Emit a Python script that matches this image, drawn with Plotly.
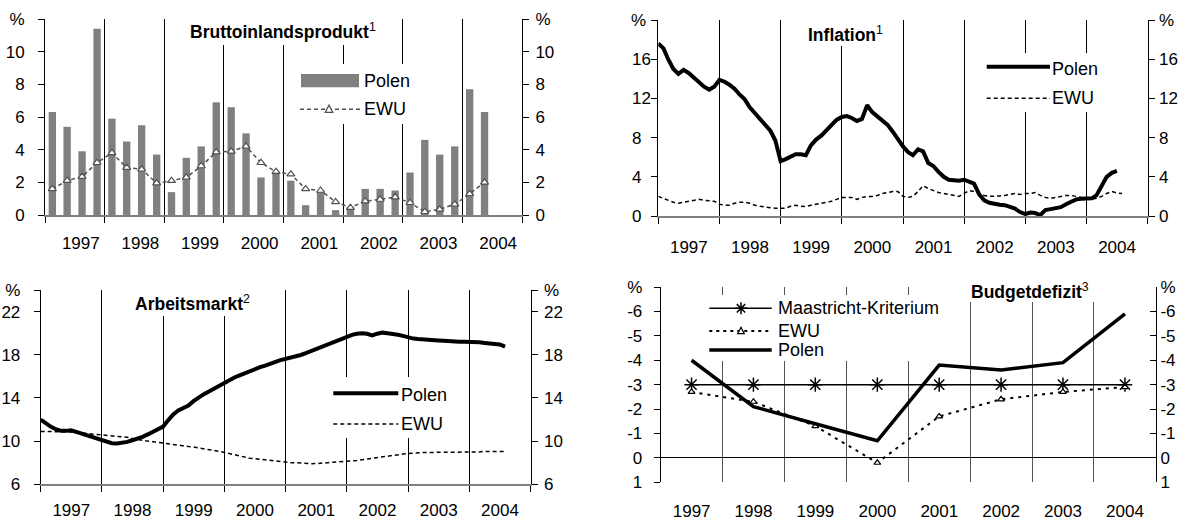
import plotly.graph_objects as go
import pandas as pd

W, H = 1190, 522

# ---------------- data ----------------
# Bruttoinlandsprodukt (quarterly, % y/y)
gdp_quarters = pd.period_range("1997Q1", "2004Q2", freq="Q")
gdp_polen = [6.3, 5.4, 3.9, 11.4, 5.9, 4.5, 5.5, 3.7, 1.4, 3.5, 4.2, 6.9, 6.6, 5.0, 2.3, 2.6,
             2.1, 0.6, 1.5, 0.3, 0.5, 1.6, 1.6, 1.5, 2.6, 4.6, 3.7, 4.2, 7.7, 6.3]
gdp_ewu = [1.6, 2.1, 2.35, 3.2, 3.8, 2.9, 2.8, 1.95, 2.1, 2.3, 3.0, 3.85, 3.9, 4.2, 3.2, 2.65,
           2.5, 1.6, 1.5, 0.8, 0.45, 0.85, 0.95, 1.1, 0.75, 0.2, 0.35, 0.65, 1.3, 2.0]

# Inflation (monthly, %)
infl_polen = [17.6, 17.1, 16.0, 15.0, 14.5, 14.9, 14.6, 14.1, 13.6, 13.2,
              12.9, 13.2, 13.9, 13.7, 13.4, 13.0, 12.4, 11.9, 11.1, 10.5,
              9.85, 9.2, 8.7, 7.7, 5.6, 5.8, 6.0, 6.3, 6.3, 6.2,
              7.2, 7.8, 8.2, 8.7, 9.2, 9.8, 10.1, 10.2, 10.0, 9.7,
              9.9, 11.3, 10.6, 10.2, 9.8, 9.3, 8.6, 7.8, 7.1, 6.5,
              6.2, 6.8, 6.6, 5.4, 5.1, 4.5, 4.0, 3.7, 3.6, 3.6,
              3.7, 3.5, 3.3, 2.2, 1.6, 1.35, 1.2, 1.15, 1.1, 0.9,
              0.75, 0.4, 0.2, 0.35, 0.3, 0.1, 0.6, 0.7, 0.75, 0.9,
              1.2, 1.5, 1.7, 1.75, 1.8, 1.8, 2.1, 3.0, 4.0, 4.4, 4.6]
infl_ewu = [2.0, 1.8, 1.6, 1.4, 1.3, 1.4, 1.5, 1.6, 1.7, 1.6,
            1.55, 1.5, 1.2, 1.1, 1.1, 1.3, 1.4, 1.4, 1.3, 1.1,
            1.0, 0.9, 0.85, 0.8, 0.8, 0.8, 1.0, 1.1, 1.0, 0.95,
            1.1, 1.2, 1.3, 1.4, 1.5, 1.7, 1.9, 1.9, 1.9, 1.7,
            1.9, 2.0, 2.0, 2.1, 2.3, 2.4, 2.5, 2.5, 2.0, 1.9,
            2.0, 2.5, 3.1, 2.8, 2.6, 2.4, 2.3, 2.2, 2.1, 2.0,
            2.3, 2.6, 2.5, 2.3, 2.1, 2.0, 2.0, 2.05, 2.1, 2.2,
            2.3, 2.2, 2.3, 2.3, 2.4, 2.1, 1.9, 1.8, 1.9, 2.0,
            2.1, 2.1, 2.0, 1.9, 1.8, 1.7, 1.8, 2.0, 2.3, 2.5, 2.35, 2.3]

# Arbeitsmarkt (monthly unemployment rate, %)
unemp_polen = [12.0, 11.65, 11.35, 11.1, 10.95, 10.95, 11.0, 10.85, 10.7, 10.55,
               10.43, 10.28, 10.12, 9.95, 9.81, 9.78, 9.82, 9.93, 10.08, 10.22,
               10.4, 10.62, 10.85, 11.1, 11.35, 11.95, 12.45, 12.85, 13.05, 13.3,
               13.7, 14.05, 14.35, 14.6, 14.88, 15.1, 15.35, 15.65, 15.9, 16.1,
               16.3, 16.5, 16.68, 16.85, 17.0, 17.2, 17.35, 17.5, 17.6, 17.7,
               17.85, 17.98, 18.15, 18.35, 18.55, 18.75, 18.95, 19.15, 19.3, 19.45,
               19.7, 19.85, 19.95, 20.0, 19.95, 19.8, 19.95, 20.05, 20.0, 19.95,
               19.85, 19.75, 19.6, 19.5, 19.45, 19.4, 19.35, 19.33, 19.33, 19.3,
               19.25, 19.2, 19.2, 19.2, 19.2, 19.18, 19.15, 19.1, 19.05, 19.0,
               18.95, 18.75]
unemp_ewu = [10.9, 10.9, 10.9, 10.9, 10.9, 10.9, 10.85, 10.8, 10.75, 10.72,
             10.68, 10.65, 10.62, 10.55, 10.5, 10.45, 10.4, 10.35, 10.25, 10.15,
             10.1, 10.0, 9.95, 9.88, 9.8, 9.75, 9.68, 9.62, 9.55, 9.5,
             9.45, 9.38, 9.3, 9.25, 9.15, 9.05, 8.95, 8.85, 8.72, 8.6,
             8.5, 8.42, 8.38, 8.32, 8.28, 8.22, 8.15, 8.08, 8.02, 8.0,
             8.0, 7.95, 7.9, 7.9, 7.92, 7.95, 7.98, 8.0, 8.02, 8.05,
             8.1, 8.15, 8.2, 8.28, 8.35, 8.4, 8.45, 8.55, 8.62, 8.7,
             8.75, 8.8, 8.85, 8.9, 8.92, 8.95, 8.95, 8.95, 8.95, 8.95,
             8.95, 8.95, 8.95, 8.95, 8.95, 8.98, 9.0, 9.05, 9.05, 9.05,
             9.05, 9.05]

# Budgetdefizit (annual, % of GDP)
budget_years = [1997, 1998, 1999, 2000, 2001, 2002, 2003, 2004]
budget_maastricht = [-3.0, -3.0, -3.0, -3.0, -3.0, -3.0, -3.0, -3.0]
budget_ewu = [-2.7, -2.3, -1.3, 0.2, -1.7, -2.4, -2.7, -2.9]
budget_polen = [-4.0, -2.1, -1.4, -0.7, -3.8, -3.6, -3.9, -5.9]

# tick labels
ticks_gdp = [0, 2, 4, 6, 8, 10, 12]
ticks_gdp_text = ["0", "2", "4", "6", "8", "10", "%"]
ticks_infl = [0, 4, 8, 12, 16, 20]
ticks_infl_text = ["0\u00a0\u00a0", "4\u00a0\u00a0", "8\u00a0\u00a0", "12", "16", "%\u00a0"]
ticks_infl_text_r = ["0", "4", "8", "12", "16", "%"]
ticks_unemp = [6, 10, 14, 18, 22, 24]
ticks_unemp_text = ["6", "10", "14", "18", "22", "%"]
ticks_budget = [1, 0, -1, -2, -3, -4, -5, -6, -7]
ticks_budget_text = ["1", "0", "-1", "-2", "-3", "-4", "-5", "-6", "%"]

# ---------------- helpers ----------------
FAM = "Liberation Sans, Arial, Helvetica, sans-serif"
FONT = dict(family=FAM, size=17, color="black")

q_mid = [p.start_time + (p.end_time - p.start_time) / 2 for p in gdp_quarters]
m_infl = pd.date_range("1997-01-01", periods=len(infl_polen), freq="MS")
m_infl_e = pd.date_range("1997-01-01", periods=len(infl_ewu), freq="MS")
m_unemp = pd.date_range("1997-01-01", periods=len(unemp_polen), freq="MS")
m_unemp_e = pd.date_range("1997-01-01", periods=len(unemp_ewu), freq="MS")
b_dates = [pd.Timestamp(f"{y}-07-02") for y in budget_years]


def PX(px):
    return px / W


def PY(py):
    return 1 - py / H


def xdate(domain, anchor, standoff, showline=True, ticks="outside", gridcolor="black", shift=0):
    return dict(type="date", domain=domain, anchor=anchor, automargin=False,
                range=["1997-01-01", "2005-01-01"], tick0="1997-01-01", dtick="M12",
                ticklabelmode="period", tickformat="%Y", ticklabelshift=shift,
                showgrid=True, gridcolor=gridcolor, gridwidth=1,
                ticks=ticks, ticklen=6, tickcolor="black", tickwidth=1,
                showline=showline, linecolor="#808080", linewidth=2,
                tickfont=FONT, ticklabelstandoff=standoff, zeroline=False, fixedrange=True)


def yax(domain, anchor, rng, tv, tt, side="left", overlay=None, standoff=0, zeroline=False,
        ticks="outside"):
    d = dict(domain=domain, anchor=anchor, range=rng, tickvals=tv, ticktext=tt, automargin=False,
             side=side, ticks=ticks, ticklen=6, tickcolor="black", tickwidth=1,
             showline=True, linecolor="black", linewidth=1, showgrid=False,
             zeroline=zeroline, zerolinecolor="black", zerolinewidth=1,
             tickfont=FONT, ticklabelstandoff=standoff, fixedrange=True)
    if overlay:
        d["overlaying"] = overlay
    return d


fig = go.Figure()

# ---- Panel 1: GDP ----
fig.add_trace(go.Bar(x=q_mid, y=gdp_polen, width=45 * 24 * 3600 * 1000,
                     marker=dict(color="#808080", line=dict(width=0)),
                     xaxis="x", yaxis="y", showlegend=False))
fig.add_trace(go.Scatter(x=q_mid, y=gdp_ewu, mode="lines+markers",
                         line=dict(color="#505050", width=1.5, dash="4px,3px"),
                         marker=dict(symbol="triangle-up", size=7, color="white",
                                     line=dict(color="#505050", width=1.2)),
                         xaxis="x", yaxis="y", showlegend=False))
# ---- Panel 2: Inflation ----
fig.add_trace(go.Scatter(x=m_infl_e, y=infl_ewu, mode="lines",
                         line=dict(color="black", width=1.5, dash="4px,3px"),
                         xaxis="x2", yaxis="y2", showlegend=False))
fig.add_trace(go.Scatter(x=m_infl, y=infl_polen, mode="lines",
                         line=dict(color="black", width=4),
                         xaxis="x2", yaxis="y2", showlegend=False))
# ---- Panel 3: Arbeitsmarkt ----
fig.add_trace(go.Scatter(x=m_unemp_e, y=unemp_ewu, mode="lines",
                         line=dict(color="black", width=1.5, dash="4px,3px"),
                         xaxis="x3", yaxis="y3", showlegend=False))
fig.add_trace(go.Scatter(x=m_unemp, y=unemp_polen, mode="lines",
                         line=dict(color="black", width=4),
                         xaxis="x3", yaxis="y3", showlegend=False))
# ---- Panel 4: Budget ----
fig.add_trace(go.Scatter(x=b_dates, y=budget_maastricht, mode="lines+markers",
                         line=dict(color="black", width=1.5),
                         marker=dict(symbol="asterisk-open", size=12,
                                     line=dict(color="black", width=1.5)),
                         xaxis="x4", yaxis="y4", showlegend=False))
fig.add_trace(go.Scatter(x=b_dates, y=budget_ewu, mode="lines+markers",
                         line=dict(color="black", width=2, dash="3px,5px"),
                         marker=dict(symbol="triangle-up", size=6, color="white",
                                     line=dict(color="black", width=1.2)),
                         xaxis="x4", yaxis="y4", showlegend=False))
fig.add_trace(go.Scatter(x=b_dates, y=budget_polen, mode="lines",
                         line=dict(color="black", width=3.5),
                         xaxis="x4", yaxis="y4", showlegend=False))
# empty traces so the right-hand axes are drawn
for xa, ya in [("x", "y5"), ("x2", "y6"), ("x3", "y7"), ("x4", "y8")]:
    fig.add_trace(go.Scatter(x=[], y=[], xaxis=xa, yaxis=ya, showlegend=False, hoverinfo="skip"))

# domains (from pixel positions)
d1x = [PX(45), PX(522)]; d1y = [PY(215), PY(19)]
d2x = [PX(658.3), PX(1147.7)]; d2y = [PY(216), PY(20)]
d3x = [PX(40.7), PX(530.7)]; d3y = [PY(484.3), PY(290)]
d4x = [PX(660.7), PX(1156)]; d4y = [PY(482.3), PY(287)]

layout = dict(
    template="none",
    width=W, height=H, autosize=False,
    margin=dict(l=0, r=0, t=0, b=0, pad=0, autoexpand=False),
    paper_bgcolor="white", plot_bgcolor="white",
    font=FONT, showlegend=False, barmode="overlay",
    xaxis=xdate(d1x, "y", 6, shift=6),
    xaxis2=xdate(d2x, "y2", 9),
    xaxis3=xdate(d3x, "y3", 3),
    xaxis4=xdate(d4x, "y4", 17, showline=False, ticks="", gridcolor="#555555"),
    yaxis=yax(d1y, "x", [0, 12], ticks_gdp, ticks_gdp_text, standoff=10),
    yaxis5=yax(d1y, "x", [0, 12], ticks_gdp, ticks_gdp_text, side="right", overlay="y", standoff=3),
    yaxis2=yax(d2y, "x2", [0, 20], ticks_infl, ticks_infl_text, standoff=-3),
    yaxis6=yax(d2y, "x2", [0, 20], ticks_infl, ticks_infl_text_r, side="right", overlay="y2", standoff=1),
    yaxis3=yax(d3y, "x3", [6, 24], ticks_unemp, ticks_unemp_text, standoff=10),
    yaxis7=yax(d3y, "x3", [6, 24], ticks_unemp, ticks_unemp_text, side="right", overlay="y3", standoff=3),
    yaxis4=yax(d4y, "x4", [1, -7], ticks_budget, ticks_budget_text, standoff=8, zeroline=True),
    yaxis8=yax(d4y, "x4", [1, -7], ticks_budget, ticks_budget_text, side="right", overlay="y4",
               standoff=0, ticks="inside"),
)
fig.update_layout(**layout)

# ---------------- titles & legends (white boxes over the grid) ----------------
shapes = []
annos = []


def box(x0, y0, x1, y1):
    shapes.append(dict(type="rect", xref="paper", yref="paper", x0=PX(x0), x1=PX(x1),
                       y0=PY(y1), y1=PY(y0), fillcolor="white", line=dict(width=0), layer="above"))


def hline(x0, x1, y, width, dash="solid", color="black"):
    shapes.append(dict(type="line", xref="paper", yref="paper", x0=PX(x0), x1=PX(x1),
                       y0=PY(y), y1=PY(y), line=dict(color=color, width=width, dash=dash),
                       layer="above"))


def tri(cx, cy, s, color):
    path = (f"M {PX(cx)} {PY(cy - s * 0.6)} L {PX(cx - s * 0.55)} {PY(cy + s * 0.45)} "
            f"L {PX(cx + s * 0.55)} {PY(cy + s * 0.45)} Z")
    shapes.append(dict(type="path", xref="paper", yref="paper", path=path, fillcolor="white",
                       line=dict(color=color, width=1.2), layer="above"))


def star(cx, cy, r):
    p = []
    for dx, dy in [(r, 0), (0, r), (r * 0.7, r * 0.7), (r * 0.7, -r * 0.7)]:
        p.append(f"M {PX(cx - dx)} {PY(cy - dy)} L {PX(cx + dx)} {PY(cy + dy)}")
    shapes.append(dict(type="path", xref="paper", yref="paper", path=" ".join(p),
                       line=dict(color="black", width=1.5), layer="above"))


def text(x, y, s, size=18):
    annos.append(dict(xref="paper", yref="paper", x=PX(x), y=PY(y), text=s, showarrow=False,
                      xanchor="left", yanchor="middle", font=dict(family=FAM, size=size, color="black")))


# titles
box(186, 19, 394, 45)
text(188, 31, "<b>Bruttoinlandsprodukt</b><sup>1</sup>", 17.5)
box(803, 20, 894, 46)
text(806, 34, "<b>Inflation</b><sup>1</sup>", 17.5)
box(130, 290, 268, 316)
text(133, 303, "<b>Arbeitsmarkt</b><sup>2</sup>", 17.5)
box(965, 287, 1106, 302)
text(969, 291, "<b>Budgetdefizit</b><sup>3</sup>", 17.5)

# legend panel 1
box(297, 64, 428, 124)
shapes.append(dict(type="rect", xref="paper", yref="paper", x0=PX(301), x1=PX(359),
                   y0=PY(87.3), y1=PY(74), fillcolor="#808080", line=dict(width=0), layer="above"))
text(362, 81, "Polen")
hline(300, 360, 109.3, 1.5, "4px,3px", "#505050")
tri(329, 109.3, 7, "#505050")
text(362, 109, "EWU")

# legend panel 2
box(980, 53, 1104, 112)
hline(986.7, 1050, 66.7, 4)
text(1050, 69, "Polen")
hline(986.7, 1050, 98.3, 1.5, "4px,3px")
text(1050, 98, "EWU")

# legend panel 3
box(330, 377, 464, 438)
hline(333.3, 398.3, 393.3, 4)
text(399.5, 395, "Polen")
hline(333.3, 398.3, 424, 1.5, "4px,3px")
text(399.5, 424, "EWU")

# legend panel 4
box(702, 295, 957, 361)
hline(709.3, 771.7, 308.3, 1.5)
star(741, 308.3, 6)
text(776, 308, "Maastricht-Kriterium")
hline(709.3, 771.7, 331, 2, "3px,4px")
tri(741, 331, 6, "black")
text(776, 331, "EWU")
hline(709.3, 771.7, 350, 3.5)
text(776, 350, "Polen")

fig.update_layout(shapes=shapes, annotations=annos)
fig.write_html("out.html", config={"displayModeBar": False},
               post_script="document.body.style.margin='0px';")
